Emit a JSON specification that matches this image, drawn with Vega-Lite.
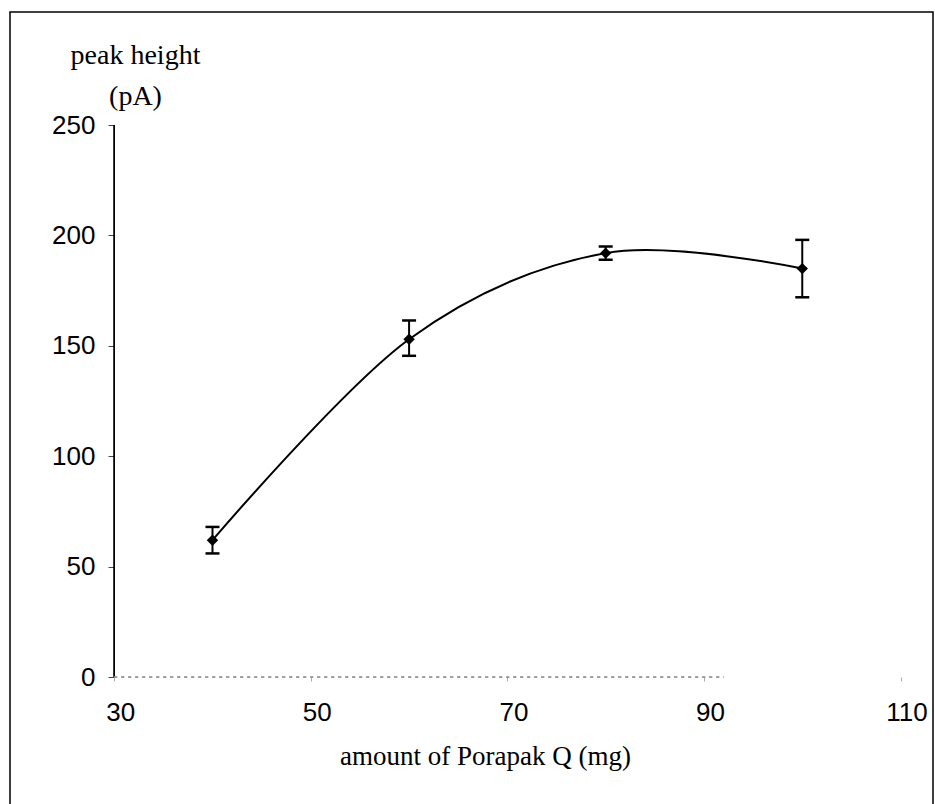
{
  "$schema": "https://vega.github.io/schema/vega-lite/v6.json",
  "width": 923,
  "height": 800,
  "autosize": {"type": "none"},
  "padding": {"left": 10, "top": 12, "right": 2, "bottom": 0},
  "background": "white",
  "config": {
    "view": {"stroke": "black", "strokeWidth": 1.5},
    "axis": {
      "domain": false,
      "grid": false,
      "labelFont": "Liberation Sans",
      "labelFontSize": 26,
      "labelColor": "black",
      "titleFont": "Liberation Serif",
      "titleFontSize": 28,
      "titleFontWeight": "normal",
      "titleColor": "black"
    }
  },
  "data": {
    "values": [
      {"amount": 40, "mean": 62, "lo": 56, "hi": 68},
      {"amount": 60, "mean": 153, "lo": 145.5, "hi": 161.5},
      {"amount": 80, "mean": 192, "lo": 189, "hi": 195},
      {"amount": 100, "mean": 185, "lo": 172, "hi": 198}
    ]
  },
  "encoding": {
    "x": {
      "field": "amount",
      "type": "quantitative",
      "scale": {"domain": [19.4, 113.3], "nice": false, "zero": false},
      "axis": {
        "title": "amount of Porapak Q (mg)",
        "values": [30, 50, 70, 90, 110],
        "offset": -135,
        "tickSize": 4,
        "tickColor": "#aaaaaa",
        "labelPadding": 18,
        "labelOffset": 6,
        "labelBaseline": "top",
        "titleFontSize": 27,
        "titleX": 475,
        "titleY": 87,
        "titleAnchor": null,
        "titleAlign": "center",
        "titleBaseline": "alphabetic"
      }
    },
    "y": {
      "field": "mean",
      "type": "quantitative",
      "scale": {"domain": [-61.1, 301.2], "nice": false, "zero": false},
      "axis": {
        "title": ["peak height", "(pA)"],
        "values": [0, 50, 100, 150, 200, 250],
        "offset": -104,
        "tickSize": 6,
        "tickColor": "#444444",
        "labelPadding": 13,
        "titleAngle": 0,
        "titleAlign": "center",
        "titleBaseline": "alphabetic",
        "titleLineHeight": 41,
        "titleX": 21,
        "titleY": 51
      }
    }
  },
  "layer": [
    {
      "mark": {"type": "rule", "color": "black", "strokeWidth": 1},
      "encoding": {
        "x": {"datum": 30, "type": "quantitative"},
        "y": {"datum": 0, "type": "quantitative"},
        "y2": {"datum": 250}
      }
    },
    {
      "mark": {"type": "rule", "color": "#999999", "strokeWidth": 1, "strokeDash": [3, 4]},
      "encoding": {
        "x": {"datum": 30, "type": "quantitative"},
        "x2": {"datum": 92},
        "y": {"datum": 0, "type": "quantitative"}
      }
    },
    {
      "mark": {"type": "line", "interpolate": "cardinal", "color": "black", "strokeWidth": 2}
    },
    {
      "mark": {"type": "rule", "color": "black", "strokeWidth": 2},
      "encoding": {
        "y": {"field": "lo", "type": "quantitative"},
        "y2": {"field": "hi"}
      }
    },
    {
      "mark": {"type": "tick", "orient": "horizontal", "color": "black", "size": 14, "thickness": 2.5, "opacity": 1},
      "encoding": {"y": {"field": "lo", "type": "quantitative"}}
    },
    {
      "mark": {"type": "tick", "orient": "horizontal", "color": "black", "size": 14, "thickness": 2.5, "opacity": 1},
      "encoding": {"y": {"field": "hi", "type": "quantitative"}}
    },
    {
      "mark": {"type": "point", "shape": "diamond", "filled": true, "color": "black", "size": 130, "opacity": 1}
    }
  ]
}
